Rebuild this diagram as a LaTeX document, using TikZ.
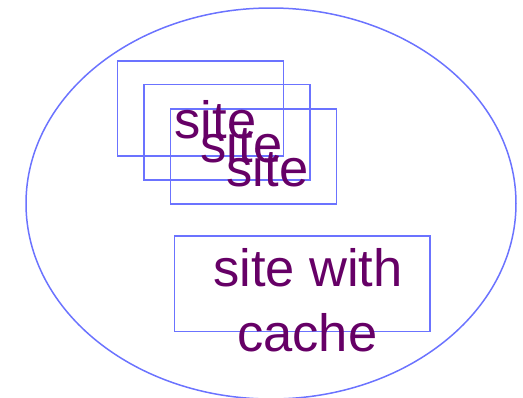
\documentclass[tikz,border=0pt]{standalone}
\usepackage{fontspec}
\setmainfont{Liberation Sans}
\usetikzlibrary{shapes.geometric}
\definecolor{linec}{HTML}{6B73FF}
\definecolor{textc}{HTML}{660066}
\tikzset{
  box/.style={draw=linec, line width=1.6pt, inner sep=0pt, outer sep=0pt},
  lbl/.style={text=textc, inner sep=0pt, font=\fontsize{52.5}{65}\selectfont},
}
\begin{document}
\begin{tikzpicture}[x=1pt,y=-1pt]
\useasboundingbox (0,0) rectangle (523,397);
\node[draw=linec, line width=1.5pt, ellipse, minimum width=490pt, minimum height=391pt, inner sep=0pt] (world) at (271,203.5) {};
\node[box, minimum width=166pt, minimum height=95.5pt] (r1) at (200.5,108.5) {};
\node[box, minimum width=166pt, minimum height=95.5pt] (r2) at (227,132.2) {};
\node[box, minimum width=166pt, minimum height=95pt] (r3) at (253.3,156.6) {};
\node[box, minimum width=255.5pt, minimum height=95.5pt] (r4) at (302.2,283.8) {};
\node[lbl, anchor=base west] (s1) at (174.3,138.3) {site};
\node[lbl, anchor=base west] (s2) at (200.3,162.5) {site};
\node[lbl, anchor=base west] (s3) at (226.3,186.7) {site};
\node[lbl, anchor=base] (c1) at (308,286.7) {site with};
\node[lbl, anchor=base] (c2) at (307.2,351.7) {cache};
\end{tikzpicture}
\end{document}
